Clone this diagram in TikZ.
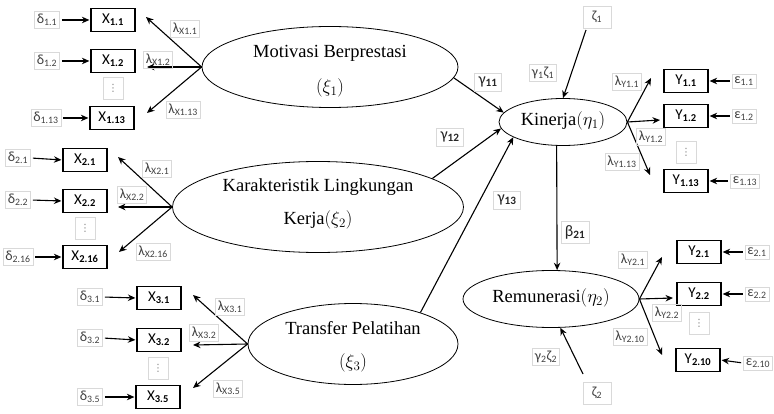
\RequirePackage{fix-cm}
\documentclass[tikz,border=0pt]{standalone}
\usepackage{fontspec}
\setmainfont{Liberation Serif}
\newfontfamily\calibri{Carlito}
\newfontfamily\dejavu{DejaVu Sans}
\usetikzlibrary{shapes.geometric,arrows.meta}
\begin{document}
\begin{tikzpicture}[x=1pt,y=-1pt,
 lat/.style={ellipse, draw, line width=0.8pt, inner sep=0pt},
 lattext/.style={align=center, font=\fontsize{18.5}{22}\selectfont, inner sep=0pt},
 obs/.style={draw, line width=1.2pt, minimum width=44pt, minimum height=23pt, inner sep=0pt, font=\calibri\fontsize{15}{16}\selectfont},
 sl/.style={draw=gray!30, line width=0.5pt, inner sep=2.5pt, text=black!75, font=\calibri\fontsize{14}{15}\selectfont},
 gl/.style={draw=gray!30, line width=0.5pt, inner sep=4pt, text=black!85, font=\calibri\fontsize{16}{17}\selectfont},
 vd/.style={draw=gray!30, line width=0.5pt, minimum width=20pt, minimum height=22pt, inner sep=0pt, text=gray, font=\dejavu\fontsize{10}{11}\selectfont},
 arr/.style={line width=1.1pt, -{Stealth[length=7.5pt,width=6.5pt]}},
 earr/.style={arr, shorten <=2pt, shorten >=1pt}]
\useasboundingbox (0,0) rectangle (774,414);

% latent variables
\node[lat, minimum width=256pt, minimum height=81pt] (m) at (330,67) {};
\node[lattext] (mt1) at (330,53) {Motivasi Berprestasi};
\node[lattext] (mt2) at (330,88) {$\left(\xi_1\right)$};
\node[lat, minimum width=291pt, minimum height=91pt] (kk) at (318,207) {};
\node[lattext] (kt1) at (318,187) {Karakteristik Lingkungan};
\node[lattext] (kt2) at (318,220) {Kerja$\left(\xi_2\right)$};
\node[lat, minimum width=210pt, minimum height=81pt] (t) at (353,344) {};
\node[lattext] (tt1) at (353,328) {Transfer Pelatihan};
\node[lattext] (tt2) at (353,363) {$\left(\xi_3\right)$};
\node[lat, minimum width=128pt, minimum height=47pt] (k) at (563,122) {};
\node[lattext] (ktx) at (563,121) {Kinerja$\left(\eta_1\right)$};
\node[lat, minimum width=176pt, minimum height=57pt] (r) at (551,299) {};
\node[lattext] (rtx) at (551,298) {Remunerasi$\left(\eta_2\right)$};

% group 1
\node[obs] (x11) at (113,20) {X\textsubscript{\textbf{1.1}}};
\node[obs] (x12) at (113,61) {X\textsubscript{\textbf{1.2}}};
\node[obs] (x113) at (112,118) {X\textsubscript{\textbf{1.13}}};
\node[vd] (vd1) at (113,88) {⋮};
\node[sl] (d11) at (47,20) {δ\textsubscript{1.1}};
\node[sl] (d12) at (47,61) {δ\textsubscript{1.2}};
\node[sl] (d113) at (46,118) {δ\textsubscript{1.13}};
\draw[earr] (d11.east) -- (x11.west);
\draw[earr] (d12.east) -- (x12.west);
\draw[earr] (d113.east) -- (x113.west);
\coordinate (a11) at (146,17);
\coordinate (a12) at (147,67);
\coordinate (a113) at (147,113);
\draw[arr] (m.west) -- (a11);
\draw[arr] (m.west) -- (a12);
\draw[arr] (m.west) -- (a113);
\node[sl] (lx11) at (185,29) {λ\textsubscript{X1.1}};
\node[sl] (lx12) at (158,60) {λ\textsubscript{X1.2}};
\node[sl] (lx113) at (183,110) {λ\textsubscript{X1.13}};

% group 2
\node[obs] (x21) at (85,160) {X\textsubscript{\textbf{2.1}}};
\node[obs] (x22) at (85,201) {X\textsubscript{\textbf{2.2}}};
\node[obs] (x216) at (85,257) {X\textsubscript{\textbf{2.16}}};
\node[vd] (vd2) at (85,228) {⋮};
\node[sl] (d21) at (18,158) {δ\textsubscript{2.1}};
\node[sl] (d22) at (18,200) {δ\textsubscript{2.2}};
\node[sl] (d216) at (18,257) {δ\textsubscript{2.16}};
\draw[earr] (d21.east) -- (x21.west);
\draw[earr] (d22.east) -- (x22.west);
\draw[earr] (d216.east) -- (x216.west);
\coordinate (a21) at (118,157);
\coordinate (a22) at (118,207);
\coordinate (a216) at (119,252);
\draw[arr] (kk.west) -- (a21);
\draw[arr] (kk.west) -- (a22);
\draw[arr] (kk.west) -- (a216);
\node[sl] (lx21) at (157,169) {λ\textsubscript{X2.1}};
\node[sl] (lx22) at (132,195) {λ\textsubscript{X2.2}};
\node[sl] (lx216) at (153,252) {λ\textsubscript{X2.16}};

% group 3
\node[obs] (x31) at (159,298) {X\textsubscript{\textbf{3.1}}};
\node[obs] (x32) at (159,340) {X\textsubscript{\textbf{3.2}}};
\node[obs] (x35) at (158,397) {X\textsubscript{\textbf{3.5}}};
\node[vd] (vd3) at (158,368) {⋮};
\node[sl] (d31) at (90,297) {δ\textsubscript{3.1}};
\node[sl] (d32) at (90,338) {δ\textsubscript{3.2}};
\node[sl] (d35) at (90,397) {δ\textsubscript{3.5}};
\draw[earr] (d31.east) -- (x31.west);
\draw[earr] (d32.east) -- (x32.west);
\draw[earr] (d35.east) -- (x35.west);
\coordinate (a31) at (193,295);
\coordinate (a32) at (193,345);
\coordinate (a35) at (193,388);
\draw[arr] (t.west) -- (a31);
\draw[arr] (t.west) -- (a32);
\draw[arr] (t.west) -- (a35);
\node[sl] (lx31) at (230,307) {λ\textsubscript{X3.1}};
\node[sl] (lx32) at (204,333) {λ\textsubscript{X3.2}};
\node[sl] (lx35) at (228,389) {λ\textsubscript{X3.5}};

% structural paths
\draw[arr] (m.-5) -- (k.171);
\draw[arr] (kk.14) -- (k.186);
\draw[arr] (t.25) -- (k.197);
\draw[arr] (k.255) -- (r.78);
\node[gl] (g11) at (488,82) {γ\textsubscript{\textbf{11}}};
\node[gl] (g12) at (450,137) {γ\textsubscript{\textbf{12}}};
\node[gl] (g13) at (507,200) {γ\textsubscript{\textbf{13}}};
\node[gl] (b21) at (575,232) {β\textsubscript{\textbf{21}}};

% disturbances
\node[sl, minimum width=28pt, minimum height=22pt] (z1) at (597,17) {ζ\textsubscript{1}};
\coordinate (z1s) at (586,30);
\draw[arr] (z1s) -- (k.north);
\node[sl] (g1z1) at (543,73) {γ\textsubscript{1}ζ\textsubscript{1}};
\node[sl, minimum width=28pt, minimum height=22pt] (z2) at (597,393) {ζ\textsubscript{2}};
\coordinate (z2s) at (583,374);
\draw[arr] (z2s) -- (r.-72);
\node[sl] (g2z2) at (546,357) {γ\textsubscript{2}ζ\textsubscript{2}};

% Y group 1
\node[obs] (y11) at (686,81) {Y\textsubscript{\textbf{1.1}}};
\node[obs] (y12) at (686,116) {Y\textsubscript{\textbf{1.2}}};
\node[obs] (y113) at (686,181) {Y\textsubscript{\textbf{1.13}}};
\node[vd] (vd4) at (686,152) {⋮};
\node[sl] (e11) at (744,81) {ε\textsubscript{1.1}};
\node[sl] (e12) at (744,116) {ε\textsubscript{1.2}};
\node[sl] (e113) at (745,181) {ε\textsubscript{1.13}};
\draw[earr] (e11.west) -- (y11.east);
\draw[earr] (e12.west) -- (y12.east);
\draw[earr] (e113.west) -- (y113.east);
\coordinate (b11) at (651,78);
\coordinate (b12) at (660,120);
\coordinate (b113) at (650,175);
\draw[arr] (k.east) -- (b11);
\draw[arr] (k.east) -- (b12);
\draw[arr] (k.east) -- (b113);
\node[sl] (ly11) at (627,82) {λ\textsubscript{Y1.1}};
\node[sl] (ly12) at (651,137) {λ\textsubscript{Y1.2}};
\node[sl] (ly113) at (622,162) {λ\textsubscript{Y1.13}};

% Y group 2
\node[obs] (y21) at (699,252) {Y\textsubscript{\textbf{2.1}}};
\node[obs] (y22) at (699,294) {Y\textsubscript{\textbf{2.2}}};
\node[obs] (y210) at (698,360) {Y\textsubscript{\textbf{2.10}}};
\node[vd] (vd5) at (699,323) {⋮};
\node[sl] (e21) at (757,252) {ε\textsubscript{2.1}};
\node[sl] (e22) at (757,294) {ε\textsubscript{2.2}};
\node[sl] (e210) at (758,363) {ε\textsubscript{2.10}};
\draw[earr] (e21.west) -- (y21.east);
\draw[earr] (e22.west) -- (y22.east);
\draw[earr] (e210.west) -- (y210.east);
\coordinate (c21) at (662,257);
\coordinate (c22) at (673,298);
\coordinate (c210) at (662,355);
\draw[arr] (r.east) -- (c21);
\draw[arr] (r.east) -- (c22);
\draw[arr] (r.east) -- (c210);
\node[sl] (ly21) at (633,260) {λ\textsubscript{Y2.1}};
\node[sl] (ly22) at (667,313) {λ\textsubscript{Y2.2}};
\node[sl] (ly210) at (630,337) {λ\textsubscript{Y2.10}};
\end{tikzpicture}
\end{document}
